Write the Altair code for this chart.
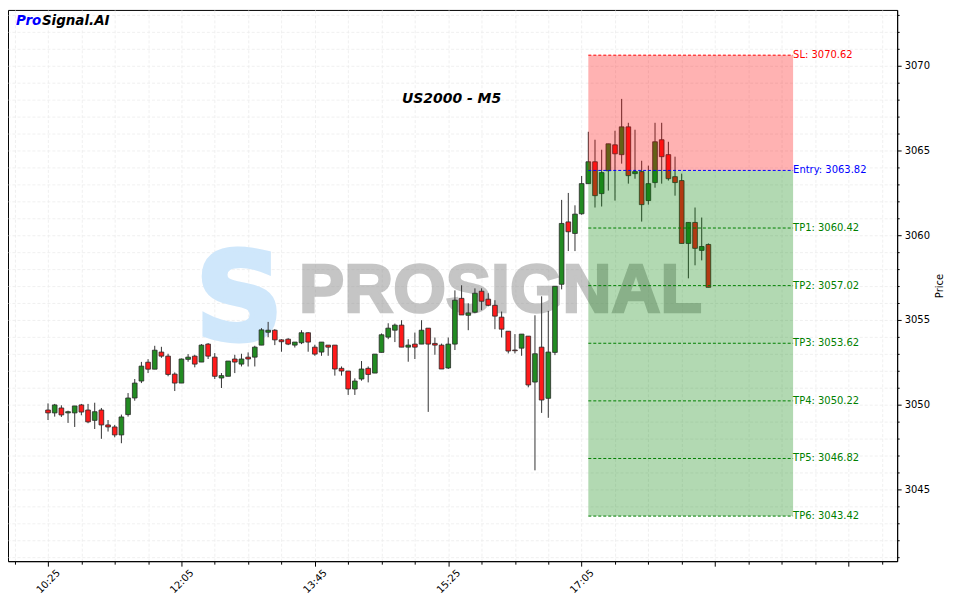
import altair as alt
import pandas as pd

# ---------------- data ----------------
opens = [3049.68, 3049.51, 3049.80, 3049.51, 3049.51, 3049.98, 3049.68, 3049.07, 3049.68, 3048.80,
         3048.68, 3048.21, 3049.41, 3050.39, 3051.39, 3052.50, 3052.09, 3053.10, 3052.86, 3051.80,
         3051.27, 3052.67, 3052.86, 3052.51, 3053.57, 3052.80, 3051.57, 3051.67, 3052.69, 3052.39,
         3052.80, 3052.80, 3053.51, 3054.27, 3054.39, 3053.82, 3053.86, 3053.51, 3053.65, 3054.24,
         3053.39, 3053.10, 3053.51, 3053.51, 3052.14, 3051.98, 3050.92, 3051.51, 3052.14, 3051.86,
         3053.08, 3053.98, 3054.39, 3054.69, 3053.39, 3053.57, 3053.57, 3054.51, 3053.61, 3053.51,
         3052.16, 3053.57, 3056.27, 3055.27, 3055.45, 3056.69, 3056.22, 3055.86, 3055.16, 3054.33,
         3053.22, 3053.33, 3054.04, 3051.33, 3053.39, 3050.37, 3053.08, 3057.10, 3060.78, 3060.10,
         3061.26, 3063.04, 3064.33, 3062.45, 3063.80, 3065.33, 3064.75, 3066.39, 3063.63, 3063.75,
         3062.04, 3063.10, 3065.63, 3064.75, 3063.45, 3063.22, 3059.51, 3060.75, 3059.10, 3059.45]
highs = [3050.07, 3050.04, 3049.96, 3049.64, 3049.92, 3050.04, 3050.04, 3050.11, 3049.80, 3049.09,
         3048.80, 3049.41, 3050.68, 3051.51, 3052.52, 3052.68, 3053.47, 3053.41, 3053.00, 3051.90,
         3052.72, 3052.98, 3052.94, 3053.57, 3053.63, 3053.04, 3051.86, 3052.57, 3052.94, 3053.00,
         3053.08, 3053.47, 3054.51, 3054.88, 3054.45, 3053.86, 3053.92, 3053.69, 3054.39, 3054.27,
         3053.53, 3053.69, 3053.51, 3053.51, 3052.25, 3051.98, 3051.55, 3052.57, 3052.25, 3052.98,
         3054.20, 3054.80, 3054.78, 3054.98, 3053.86, 3054.25, 3054.98, 3054.51, 3053.96, 3053.60,
         3053.96, 3056.74, 3057.04, 3055.98, 3056.86, 3056.86, 3056.57, 3056.16, 3055.49, 3054.33,
         3054.16, 3054.16, 3054.04, 3055.27, 3056.39, 3055.53, 3056.98, 3062.08, 3062.49, 3061.76,
         3063.49, 3066.10, 3065.63, 3065.04, 3065.39, 3066.16, 3068.04, 3066.63, 3066.22, 3064.39,
         3064.10, 3066.63, 3066.63, 3065.51, 3064.63, 3063.63, 3060.75, 3061.63, 3061.04, 3059.51]
lows = [3049.09, 3049.29, 3049.27, 3048.92, 3048.68, 3049.37, 3048.90, 3048.56, 3047.98, 3048.41,
        3048.07, 3047.72, 3049.29, 3050.23, 3051.27, 3051.86, 3052.09, 3052.76, 3051.67, 3050.80,
        3051.27, 3052.53, 3052.20, 3052.51, 3052.69, 3051.51, 3050.98, 3051.67, 3051.86, 3052.25,
        3052.25, 3052.25, 3053.51, 3053.98, 3053.51, 3053.12, 3053.51, 3053.37, 3053.57, 3053.12,
        3052.88, 3052.88, 3052.88, 3051.71, 3051.71, 3050.57, 3050.57, 3051.41, 3051.31, 3051.86,
        3053.08, 3053.86, 3053.69, 3053.39, 3052.53, 3052.69, 3053.57, 3049.57, 3052.94, 3052.10,
        3052.10, 3053.22, 3055.29, 3054.39, 3055.39, 3055.57, 3055.80, 3054.45, 3053.96, 3053.02,
        3053.02, 3052.88, 3051.02, 3046.12, 3049.51, 3049.22, 3052.92, 3056.80, 3059.06, 3059.06,
        3061.20, 3063.04, 3061.63, 3061.69, 3062.63, 3062.04, 3064.22, 3063.04, 3063.33, 3060.80,
        3061.80, 3062.80, 3063.04, 3063.22, 3062.33, 3059.51, 3057.45, 3058.22, 3058.51, 3056.92]
closes = [3049.51, 3049.98, 3049.39, 3049.58, 3049.92, 3049.56, 3048.98, 3049.58, 3048.80, 3048.68,
          3048.21, 3049.27, 3050.39, 3051.27, 3052.27, 3052.09, 3053.21, 3052.86, 3051.78, 3051.27,
          3052.69, 3052.80, 3052.39, 3053.51, 3052.86, 3051.67, 3051.71, 3052.57, 3052.51, 3052.69,
          3052.69, 3053.39, 3054.41, 3054.39, 3053.82, 3053.71, 3053.57, 3053.69, 3054.24, 3053.69,
          3052.98, 3053.69, 3053.39, 3052.10, 3051.98, 3050.92, 3051.39, 3052.10, 3051.78, 3052.98,
          3054.12, 3054.51, 3054.69, 3053.39, 3053.51, 3053.39, 3054.39, 3053.57, 3053.51, 3052.10,
          3053.57, 3056.16, 3055.29, 3055.41, 3056.57, 3056.10, 3055.86, 3055.22, 3054.45, 3053.16,
          3053.18, 3054.16, 3051.16, 3053.00, 3050.27, 3053.10, 3056.98, 3060.69, 3060.20, 3061.24,
          3063.04, 3064.33, 3062.33, 3063.69, 3065.39, 3064.80, 3066.39, 3063.51, 3063.75, 3061.80,
          3063.04, 3065.51, 3064.63, 3063.33, 3063.10, 3059.51, 3060.75, 3059.22, 3059.33, 3056.92]

times = pd.date_range("2024-01-01 10:25", periods=len(opens), freq="5min").strftime("%H:%M").tolist()

level_names = ["SL", "Entry", "TP1", "TP2", "TP3", "TP4", "TP5", "TP6"]
level_prices = [3070.62, 3063.82, 3060.42, 3057.02, 3053.62, 3050.22, 3046.82, 3043.42]
level_colors = ["#ff0000", "#0000ff", "#008000", "#008000", "#008000", "#008000", "#008000", "#008000"]
entry_index = 81
zone_end_index = 111.7

tick_idx = [0, 20, 40, 60, 80]
tick_labels = [times[i] for i in tick_idx]

chart_title = "US2000 - M5"
brand_a, brand_b = "Pro", "Signal.AI"
watermark = "PROSIGNAL"

FONT = "DejaVu Sans"

# ---------------- frames ----------------
candles = pd.DataFrame({
    "idx": list(range(len(opens))),
    "time": times,
    "open": opens, "high": highs, "low": lows, "close": closes,
})
candles["dir"] = ["up" if c >= o else "down" for o, c in zip(opens, closes)]

levels = pd.DataFrame({
    "name": level_names, "price": level_prices, "color": level_colors,
    "x": entry_index, "x2": zone_end_index,
})
levels["label"] = [f"{n}: {p:.2f}" for n, p in zip(level_names, level_prices)]

zones = pd.DataFrame({
    "x": [entry_index, entry_index], "x2": [zone_end_index, zone_end_index],
    "y": [level_prices[1], level_prices[-1]], "y2": [level_prices[0], level_prices[1]],
    "color": ["#ff0000", "#008000"],
})

one = pd.DataFrame({"a": [0]})

# ---------------- scales / axes ----------------
label_expr = "".join(f"datum.value === {i} ? '{t}' : " for i, t in zip(tick_idx, tick_labels)) + "''"

x_scale = alt.Scale(domain=[-6, 127.3], nice=False, zero=False, padding=0)
y_scale = alt.Scale(domain=[3040.76, 3073.29], nice=False, zero=False, padding=0)

GRID = "#ececec"

x_axis = alt.Axis(
    values=list(range(-5, 130, 5)), labelExpr=label_expr, labelAngle=315,
    labelAlign="center", labelBaseline="middle", labelFontSize=10, labelFont=FONT,
    labelColor="black", labelPadding=15,
    tickSize={"condition": {"test": "datum.value % 20 === 0", "value": 5}, "value": 3},
    tickColor="black", domainColor="black", grid=True, gridColor=GRID,
    gridDash=[3, 2], gridWidth=0.8, title=None, labelOverlap=False,
)
y_axis = alt.Axis(
    orient="right", values=list(range(3041, 3074)),
    labelExpr="datum.value % 5 === 0 ? datum.value : ''",
    tickSize={"condition": {"test": "datum.value % 5 === 0", "value": 4}, "value": 2},
    tickColor="black", domainColor="black", labelFontSize=10, labelFont=FONT,
    labelColor="black", labelPadding=3, grid=True, gridColor=GRID,
    gridDash=[3, 2], gridWidth=0.8, title="Price", titleFont=FONT,
    titleFontSize=10, titleFontWeight="normal", titleColor="black",
    titleAngle=270, titlePadding=15, labelOverlap=False,
)

X = alt.X("idx:Q", scale=x_scale, axis=x_axis)

# ---------------- layers ----------------
logo = alt.Chart(one).mark_text(
    text="S", font="DejaVu Sans", fontWeight="bold", fontSize=122,
    color="#cfe7fb", stroke="#cfe7fb", strokeWidth=5, align="center", baseline="alphabetic",
).encode(x=alt.value(232), y=alt.value(330))

wm = alt.Chart(one).mark_text(
    text=watermark, font="Liberation Sans", fontWeight="bold", fontSize=68,
    color="#8c8c8c", stroke="#8c8c8c", strokeWidth=2.5, opacity=0.5,
    align="center", baseline="alphabetic",
).encode(x=alt.value(494), y=alt.value(303))

wicks = alt.Chart(candles).mark_rule(color="#333333", strokeWidth=1).encode(
    x=X,
    y=alt.Y("low:Q", scale=y_scale, axis=y_axis),
    y2="high:Q",
)

bodies = alt.Chart(candles).mark_bar(size=4.7, stroke="#2a2a2a", strokeWidth=0.8).encode(
    x=X,
    y=alt.Y("open:Q", scale=y_scale, axis=y_axis),
    y2="close:Q",
    color=alt.Color("dir:N", scale=alt.Scale(domain=["up", "down"], range=["#228b22", "#ff1a1a"]), legend=None),
)

zone_rects = alt.Chart(zones).mark_rect(opacity=0.3).encode(
    x=alt.X("x:Q", scale=x_scale, axis=x_axis),
    x2="x2:Q",
    y=alt.Y("y:Q", scale=y_scale, axis=y_axis),
    y2="y2:Q",
    color=alt.Color("color:N", scale=None),
)

level_lines = alt.Chart(levels).mark_rule(strokeDash=[3, 2], strokeWidth=1).encode(
    x=alt.X("x:Q", scale=x_scale, axis=x_axis),
    x2="x2:Q",
    y=alt.Y("price:Q", scale=y_scale, axis=y_axis),
    color=alt.Color("color:N", scale=None),
)

level_text = alt.Chart(levels).mark_text(
    align="left", baseline="middle", font=FONT, fontSize=10,
).encode(
    x=alt.X("x2:Q", scale=x_scale, axis=x_axis),
    y=alt.Y("price:Q", scale=y_scale, axis=y_axis),
    text="label:N",
    color=alt.Color("color:N", scale=None),
)

title_txt = alt.Chart(one).mark_text(
    text=chart_title, font=FONT, fontSize=14, fontWeight="bold", fontStyle="italic",
    color="black", align="center", baseline="middle",
).encode(x=alt.value(445), y=alt.value(89))

brand1 = alt.Chart(one).mark_text(
    text=brand_a, font=FONT, fontSize=13.5, fontWeight="bold", fontStyle="italic",
    color="#0000ff", align="left", baseline="middle",
).encode(x=alt.value(8), y=alt.value(11))

brand2 = alt.Chart(one).mark_text(
    text=brand_b, font=FONT, fontSize=13.5, fontWeight="bold", fontStyle="italic",
    color="black", align="left", baseline="middle",
).encode(x=alt.value(34), y=alt.value(11))

chart = alt.layer(
    logo, wm, wicks, bodies, zone_rects, level_lines, level_text, title_txt, brand1, brand2
).properties(width=892, height=553, padding=0).configure_view(
    stroke="black", strokeWidth=1
)

chart.save("out.html", embed_options={"renderer": "svg", "actions": False})
